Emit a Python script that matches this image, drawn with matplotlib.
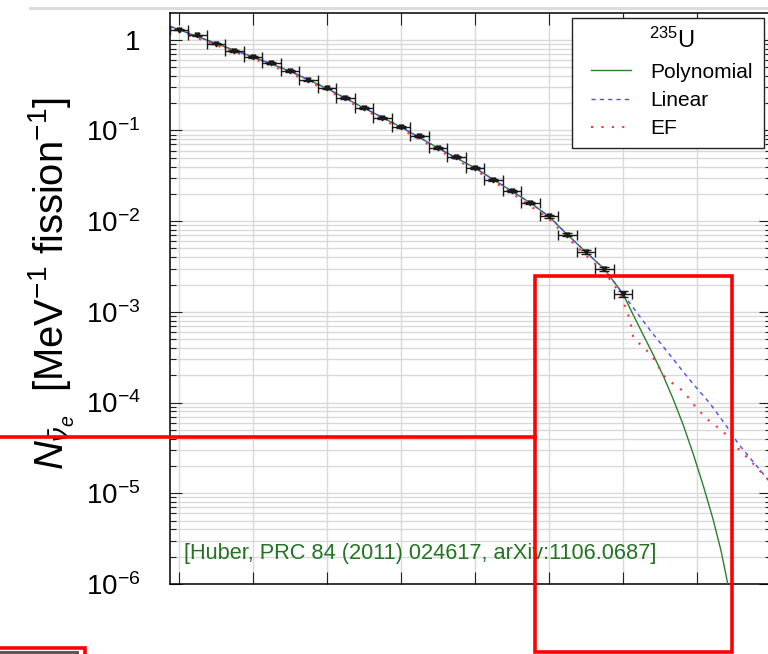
import matplotlib
matplotlib.use('Agg')
import matplotlib.pyplot as plt
import matplotlib.ticker as mt
from matplotlib.patches import Rectangle
from matplotlib.lines import Line2D

plt.rcParams['font.family'] = ['Liberation Sans', 'DejaVu Sans']
plt.rcParams['mathtext.fontset'] = 'custom'
plt.rcParams['mathtext.rm'] = 'Liberation Sans'
plt.rcParams['mathtext.it'] = 'Liberation Sans:italic'
plt.rcParams['mathtext.bf'] = 'Liberation Sans:bold'

# ---- data ----
energy = [2.0, 2.25, 2.5, 2.75, 3.0, 3.25, 3.5, 3.75, 4.0, 4.25, 4.5, 4.75, 5.0,
          5.25, 5.5, 5.75, 6.0, 6.25, 6.5, 6.75, 7.0, 7.25, 7.5, 7.75, 8.0]
flux = [1.29, 1.12, 0.908, 0.753, 0.646, 0.555, 0.45, 0.357, 0.29, 0.228, 0.177,
        0.137, 0.109, 0.0863, 0.0641, 0.0507, 0.0386, 0.0282, 0.0214, 0.0159,
        0.0113, 0.00711, 0.00457, 0.00297, 0.00159]
flux_err = [0.02, 0.017, 0.014, 0.012, 0.01, 0.009, 0.008, 0.006, 0.005, 0.004,
            0.0033, 0.0026, 0.0021, 0.0017, 0.0013, 0.0011, 0.0009, 0.0007,
            0.0006, 0.00045, 0.00035, 0.00025, 0.00018, 0.00013, 0.00012]
bin_half_width = 0.125

poly_E = [1.875, 2.0, 2.5, 3.0, 3.5, 4.0, 4.5, 5.0, 5.5, 6.0, 6.5, 6.75, 7.0,
          7.25, 7.5, 7.75, 8.0, 8.14, 8.28, 8.41, 8.55, 8.68, 8.82, 8.95, 9.09,
          9.22, 9.33, 9.42, 9.46]
poly_N = [1.41, 1.29, 0.908, 0.646, 0.45, 0.29, 0.177, 0.109, 0.0641, 0.0386,
          0.0214, 0.0159, 0.0113, 0.00711, 0.00457, 0.00297, 0.00159, 9.3e-4,
          5.5e-4, 3.39e-4, 1.95e-4, 1.1e-4, 5.6e-5, 2.75e-5, 1.2e-5,
          5.2e-6, 2.3e-6, 1.0e-6, 6.0e-7]

lin_E = [1.875, 2.0, 2.5, 3.0, 3.5, 4.0, 4.5, 5.0, 5.5, 6.0, 6.5, 6.75, 7.0,
         7.25, 7.5, 7.75, 8.0, 8.1, 8.37, 8.64, 8.91, 9.18, 9.41, 9.56, 10.0]
lin_N = [1.41, 1.29, 0.908, 0.646, 0.45, 0.29, 0.177, 0.109, 0.0641, 0.0386,
         0.0214, 0.0159, 0.0113, 0.00711, 0.00457, 0.00297, 0.00159, 1.23e-3,
         6.27e-4, 3.32e-4, 1.76e-4, 9.75e-5, 5.38e-5, 3.53e-5, 1.3e-5]

ef_E = [1.875, 2.0, 2.5, 3.0, 3.5, 4.0, 4.5, 5.0, 5.5, 6.0, 6.5, 7.0, 7.25, 7.5,
        7.75, 7.96, 8.05, 8.10, 8.14, 8.21, 8.30, 8.37, 8.44, 8.55, 8.62, 8.71,
        8.80, 8.87, 8.93, 9.0, 9.08, 9.16, 9.25, 9.33, 9.41, 9.55, 9.72, 10.0]
ef_N = [1.36, 1.24, 0.87, 0.62, 0.43, 0.278, 0.17, 0.104, 0.061, 0.0368, 0.0203,
        0.0106, 0.0066, 0.0042, 0.00275, 1.62e-3, 1.04e-3, 8.07e-4, 5.28e-4,
        4.58e-4, 3.94e-4, 3.41e-4, 2.88e-4, 2.0e-4, 1.76e-4, 1.55e-4, 1.37e-4,
        1.18e-4, 1.02e-4, 8.59e-5, 7.43e-5, 6.38e-5, 5.62e-5, 4.94e-5, 4.36e-5,
        3.16e-5, 2.31e-5, 1.32e-5]

series_labels = ['Polynomial', 'Linear', 'EF']
legend_title = r'$^{235}$U'
ytick_values = [1e-6, 1e-5, 1e-4, 1e-3, 1e-2, 1e-1, 1]
ytick_labels = [r'$10^{-6}$', r'$10^{-5}$', r'$10^{-4}$', r'$10^{-3}$',
                r'$10^{-2}$', r'$10^{-1}$', '1']
ylabel_text = r'$N_{\bar{\nu}_e}$  [MeV$^{-1}$ fission$^{-1}$]'
citation = '[Huber, PRC 84 (2011) 024617, arXiv:1106.0687]'

# ---- figure ----
W, H = 768, 654
fig = plt.figure(figsize=(W / 100, H / 100), dpi=100)

def fx(px):
    return px / W

def fy(py):
    return 1 - py / H

ax_left, ax_right, ax_top, ax_bottom = 169.75, 770.7, 13, 584
ax = fig.add_axes([fx(ax_left), fy(ax_bottom), (ax_right - ax_left) / W,
                   (ax_bottom - ax_top) / H])
ax.set_yscale('log')
ax.set_xlim(1.875, 10.0)
ax.set_ylim(1e-6, 1.97)

GREEN = '#2f7d2f'
BLUE = '#4a4aff'
RED = '#ff3030'

ax.plot(poly_E, poly_N, color=GREEN, lw=1.0, zorder=3)
ax.plot(lin_E, lin_N, color=BLUE, lw=1.0, ls=(0, (3, 3)), zorder=4)
ax.plot(ef_E, ef_N, color=RED, lw=1.5, ls=(0, (1, 4)), zorder=4)

ax.errorbar(energy, flux, xerr=bin_half_width, yerr=flux_err, fmt='v',
            ms=3.5, color='#1a1a1a', ecolor='#1a1a1a', elinewidth=1.0,
            capsize=3.5, capthick=1.0, zorder=5)

ax.xaxis.set_major_locator(mt.MultipleLocator(1))
ax.xaxis.set_minor_locator(mt.NullLocator())
ax.yaxis.set_major_locator(mt.FixedLocator(ytick_values))
ax.yaxis.set_major_formatter(mt.FixedFormatter(ytick_labels))
ax.yaxis.set_minor_locator(mt.LogLocator(base=10, subs=range(2, 10), numticks=20))
ax.yaxis.set_minor_formatter(mt.NullFormatter())

ax.tick_params(which='both', direction='in', top=True, right=True,
               labelbottom=False, width=0.8, color='#222222')
ax.tick_params(which='major', length=8.5, labelsize=20, pad=21)
ax.tick_params(which='minor', length=4.5)

ax.grid(which='major', axis='both', color='#d9d9d9', lw=1.0)
ax.grid(which='minor', axis='y', color='#d9d9d9', lw=1.0)
ax.set_axisbelow(True)
for s in ax.spines.values():
    s.set_linewidth(1.1)

# legend: frame drawn as a patch, entries by the legend
ax.add_patch(Rectangle((fx(572), fy(148)), (764 - 572) / W, (148 - 18) / H,
                       transform=fig.transFigure, facecolor='white',
                       edgecolor='#222222', lw=1.0, zorder=9, clip_on=False))
handles = [Line2D([], [], color=GREEN, lw=1.0),
           Line2D([], [], color=BLUE, lw=1.0, ls=(0, (3, 3))),
           Line2D([], [], color=RED, lw=1.5, ls=(0, (1, 4)))]
leg = ax.legend(handles, series_labels, title=legend_title, loc='upper left',
                bbox_to_anchor=(fx(591), fy(28)), bbox_transform=fig.transFigure,
                frameon=False, fontsize=15, title_fontsize=17, handlelength=1.9,
                handletextpad=0.95, borderpad=0, labelspacing=0.45,
                borderaxespad=0)
leg.set_zorder(10)

ax.text((184 - ax_left) / (ax_right - ax_left), (ax_bottom - 553) / (ax_bottom - ax_top),
        citation, transform=ax.transAxes, color='#237323', fontsize=15.7,
        ha='left', va='center')

fig.text(fx(52), fy(283), ylabel_text, rotation=90, ha='center', va='center',
         fontsize=28.8)

# ---- screenshot decorations (grey bar, red annotation boxes) ----
fig.add_artist(Rectangle((fx(29), fy(10)), 1, 3.3 / H, transform=fig.transFigure,
                         color='#dcdcdc', lw=0, zorder=20))
lw_red = 3.6 * 0.72
fig.add_artist(Rectangle((fx(535), fy(651.7)), (732.3 - 535) / W, (651.7 - 275.7) / H,
                         transform=fig.transFigure, fill=False, ec='#ff0000',
                         lw=lw_red, zorder=21))
fig.add_artist(Line2D([fx(0), fx(535)], [fy(437), fy(437)], transform=fig.transFigure,
                      color='#ff0000', lw=lw_red, zorder=21))
fig.add_artist(Rectangle((fx(0), fy(654)), 79 / W, 3.5 / H, transform=fig.transFigure,
                         color='#5a5a5a', lw=0, zorder=20))
fig.add_artist(Rectangle((fx(-5), fy(660)), 89.7 / W, 12.5 / H, transform=fig.transFigure,
                         fill=False, ec='#ff0000', lw=lw_red, zorder=21))

fig.savefig('out.png', dpi=100)
